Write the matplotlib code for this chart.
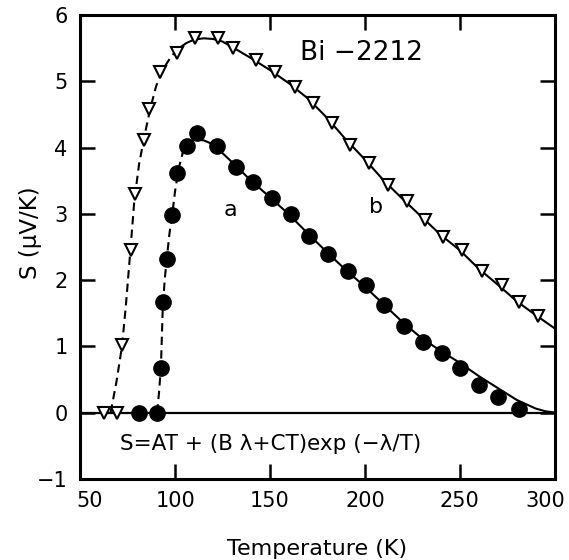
"""
Bi-2212 thermopower S(T) - recreated figure
"""

import matplotlib
matplotlib.use("Agg")
import matplotlib.pyplot as plt
import matplotlib.transforms as mtransforms

# Sample b (open down-triangles)
t_b = [62.6, 69.5, 72.1, 76.5, 78.6, 83.5, 86.1, 92.1, 101.0, 110.5, 122.6,
       130.5, 142.6, 152.6, 163.0, 172.6, 182.6, 192.0, 202.0, 212.0, 222.0,
       231.6, 241.0, 251.0, 261.6, 272.0, 281.0, 291.0]
s_b = [0.0, 0.0, 1.02, 2.46, 3.3, 4.12, 4.58, 5.14, 5.43, 5.65, 5.65,
       5.5, 5.32, 5.14, 4.92, 4.68, 4.37, 4.04, 3.77, 3.44, 3.2,
       2.91, 2.65, 2.45, 2.13, 1.93, 1.67, 1.46]

# Sample a (filled circles)
t_a = [81.0, 90.5, 92.6, 93.4, 95.8, 98.4, 101.0, 106.2, 111.6, 121.8, 132.0,
       141.2, 151.2, 161.0, 170.5, 180.5, 191.0, 200.5, 210.0, 220.5, 230.5,
       240.5, 250.0, 260.0, 270.0, 281.0]
s_a = [0.0, 0.0, 0.68, 1.67, 2.32, 2.99, 3.62, 4.03, 4.22, 4.02, 3.71,
       3.48, 3.24, 3.0, 2.66, 2.4, 2.14, 1.92, 1.63, 1.31, 1.07,
       0.9, 0.68, 0.42, 0.23, 0.05]

# Curves: dashed (below Tc region) and solid (fit)
t_b_dash = [66.0, 69.0, 72.0, 74.0, 76.0, 78.5, 81.0, 84.0, 87.0, 90.0, 94.0, 98.0, 102.0]
s_b_dash = [0.0, 0.45, 1.0, 1.6, 2.3, 3.2, 3.75, 4.2, 4.6, 4.93, 5.2, 5.38, 5.5]
t_b_fit = [102, 106, 110, 115, 120, 125, 130, 140, 150, 160, 170, 180, 190, 200,
           210, 220, 230, 240, 250, 260, 270, 280, 290, 300]
s_b_fit = [5.5, 5.58, 5.63, 5.65, 5.64, 5.6, 5.52, 5.35, 5.17, 4.97, 4.74, 4.45,
           4.12, 3.82, 3.5, 3.22, 2.95, 2.68, 2.45, 2.17, 1.93, 1.68, 1.47, 1.27]

t_a_dash = [90.5, 91.5, 92.5, 93.5, 94.5, 95.5, 97.0, 98.5, 100.0, 102.0, 104.0]
s_a_dash = [0.0, 0.3, 0.68, 1.6, 2.0, 2.3, 2.7, 3.0, 3.35, 3.7, 3.92]
t_a_fit = [104, 107, 110, 115, 120, 130, 140, 150, 160, 170, 180, 190, 200, 210,
           220, 230, 240, 250, 260, 270, 280, 290, 295, 300]
s_a_fit = [3.92, 4.06, 4.12, 4.11, 4.05, 3.78, 3.5, 3.25, 2.99, 2.7, 2.42, 2.15,
           1.9, 1.63, 1.36, 1.12, 0.93, 0.75, 0.55, 0.37, 0.19, 0.06, 0.02, 0.0]

x_ticks = [50, 100, 150, 200, 250, 300]
y_ticks = [-1, 0, 1, 2, 3, 4, 5, 6]
y_labels = ['\u22121', '0', '1', '2', '3', '4', '5', '6']

fig = plt.figure(figsize=(5.69, 5.60), dpi=100)
ax = fig.add_axes([0.141, 0.145, 0.834, 0.828])

ax.axhline(0, color='black', linewidth=1.6, zorder=1)

ax.plot(t_b_dash, s_b_dash, color='black', linestyle=(0, (4, 2.5)), linewidth=1.5)
ax.plot(t_b_fit, s_b_fit, color='black', linewidth=1.5)
ax.plot(t_a_dash, s_a_dash, color='black', linestyle=(0, (4, 2.5)), linewidth=1.5)
ax.plot(t_a_fit, s_a_fit, color='black', linewidth=1.5)

ax.plot(t_b, s_b, 'v', markersize=9, markerfacecolor='white',
        markeredgecolor='black', markeredgewidth=1.5, zorder=5)
ax.plot(t_a, s_a, 'o', markersize=11, color='black', zorder=5)

ax.text(166, 5.43, 'Bi \u22122212', fontsize=19, va='center', ha='left')
ax.text(129, 3.06, 'a', fontsize=16, va='center', ha='center')
ax.text(206, 3.1, 'b', fontsize=16, va='center', ha='center')
ax.text(71, -0.48, 'S=AT + (B \u03bb+CT)exp (\u2212\u03bb/T)', fontsize=15.5,
        va='center', ha='left')

ax.set_xlim(50, 300)
ax.set_ylim(-1, 6)
ax.set_xticks(x_ticks)
ax.set_yticks(y_ticks)
ax.set_yticklabels(y_labels)
ax.tick_params(direction='in', length=11, width=1.8, top=True, right=True,
               labelsize=15, pad=9)
for sp in ax.spines.values():
    sp.set_linewidth(2.2)

# end labels sit slightly inside the frame in the original
xlabels = ax.get_xticklabels()
xlabels[0].set_transform(xlabels[0].get_transform() +
                         mtransforms.ScaledTranslation(0.09, 0, fig.dpi_scale_trans))
xlabels[-1].set_transform(xlabels[-1].get_transform() +
                          mtransforms.ScaledTranslation(-0.10, 0, fig.dpi_scale_trans))

ax.set_xlabel('Temperature (K)', fontsize=16, labelpad=20)
ax.set_ylabel('S (\u03bcV/K)', fontsize=16.5)
ax.yaxis.set_label_coords(-0.08, 0.53)

plt.savefig('out.png', dpi=100)
plt.close()
